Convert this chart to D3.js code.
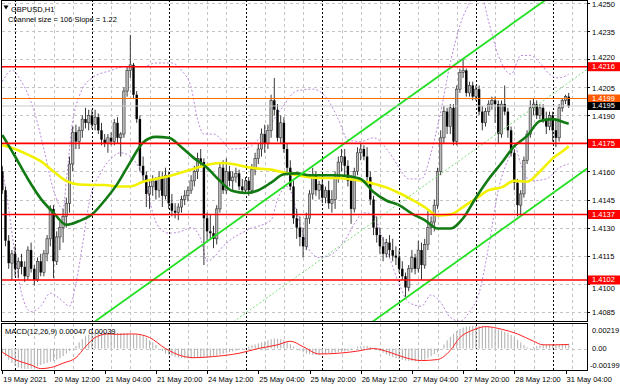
<!DOCTYPE html>
<html>
<head>
<meta charset="utf-8">
<script src="https://cdn.jsdelivr.net/npm/d3@7"></script>
<style>
  html, body { margin: 0; padding: 0; background: #fff; }
  svg { display: block; font-family: "Liberation Sans", Arial, sans-serif; }
</style>
</head>
<body>
<svg id="chart" width="620" height="388"></svg>
<script>
// GBPUSD H1, 19 May 20:00 .. 31 May 05:00 (bar index 0..177)
const opens = [
  1.4160,1.4150,1.4123,1.4111,1.4116,1.4108,1.4112,1.4109,1.4104,1.4118,
  1.4108,1.4102,1.4112,1.4106,1.4116,1.4124,1.4140,1.4112,1.4125,1.4130,
  1.4136,1.4143,1.4164,1.4181,1.4176,1.4182,1.4188,1.4186,1.4190,1.4185,
  1.4189,1.4182,1.4177,1.4175,1.4178,1.4176,1.4186,1.4178,1.4180,1.4203,
  1.4214,1.4217,1.4201,1.4188,1.4163,1.4158,1.4148,1.4152,1.4155,1.4150,
  1.4157,1.4147,1.4158,1.4143,1.4139,1.4138,1.4141,1.4145,1.4147,1.4150,
  1.4155,1.4160,1.4167,1.4165,1.4135,1.4128,1.4127,1.4124,1.4140,1.4162,
  1.4150,1.4160,1.4155,1.4157,1.4159,1.4152,1.4150,1.4155,1.4150,1.4161,
  1.4167,1.4172,1.4180,1.4175,1.4182,1.4198,1.4193,1.4178,1.4186,1.4172,
  1.4162,1.4152,1.4135,1.4130,1.4125,1.4120,1.4135,1.4148,1.4158,1.4150,
  1.4153,1.4146,1.4150,1.4143,1.4145,1.4157,1.4165,1.4168,1.4163,1.4155,
  1.4140,1.4160,1.4170,1.4172,1.4168,1.4157,1.4145,1.4130,1.4126,1.4120,
  1.4116,1.4122,1.4118,1.4115,1.4114,1.4108,1.4104,1.4098,1.4108,1.4114,
  1.4108,1.4118,1.4110,1.4121,1.4130,1.4133,1.4142,1.4160,1.4178,1.4192,
  1.4184,1.4194,1.4176,1.4204,1.4213,1.4214,1.4202,1.4206,1.4200,1.4204,
  1.4192,1.4186,1.4192,1.4196,1.4198,1.4196,1.4180,1.4196,1.4192,1.4182,
  1.4170,1.4154,1.4142,1.4148,1.4166,1.4180,1.4194,1.4196,1.4190,1.4194,
  1.4188,1.4184,1.4190,1.4182,1.4178,1.4194,1.4198,1.4200]
const highs = [
  1.4163,1.4152,1.4126,1.4118,1.4120,1.4114,1.4116,1.4112,1.4120,1.4122,
  1.4110,1.4114,1.4116,1.4118,1.4126,1.4142,1.4142,1.4128,1.4133,1.4140,
  1.4146,1.4168,1.4184,1.4185,1.4184,1.4190,1.4194,1.4193,1.4193,1.4193,
  1.4191,1.4186,1.4180,1.4180,1.4181,1.4188,1.4189,1.4181,1.4205,1.4216,
  1.4233,1.4218,1.4203,1.4190,1.4168,1.4160,1.4155,1.4158,1.4157,1.4160,
  1.4160,1.4162,1.4160,1.4148,1.4143,1.4143,1.4147,1.4150,1.4152,1.4158,
  1.4163,1.4170,1.4172,1.4167,1.4138,1.4137,1.4131,1.4142,1.4164,1.4166,
  1.4167,1.4163,1.4160,1.4162,1.4161,1.4156,1.4157,1.4157,1.4164,1.4170,
  1.4175,1.4183,1.4185,1.4185,1.4201,1.4210,1.4196,1.4190,1.4189,1.4175,
  1.4166,1.4155,1.4140,1.4136,1.4130,1.4138,1.4150,1.4162,1.4160,1.4155,
  1.4157,1.4152,1.4155,1.4150,1.4160,1.4168,1.4172,1.4172,1.4166,1.4158,
  1.4162,1.4173,1.4175,1.4174,1.4173,1.4160,1.4147,1.4136,1.4130,1.4125,
  1.4124,1.4126,1.4124,1.4120,1.4118,1.4112,1.4106,1.4110,1.4118,1.4116,
  1.4123,1.4122,1.4124,1.4139,1.4136,1.4145,1.4162,1.4182,1.4195,1.4194,
  1.4196,1.4196,1.4206,1.4215,1.4220,1.4215,1.4208,1.4208,1.4206,1.4206,
  1.4195,1.4194,1.4198,1.4200,1.4200,1.4198,1.4198,1.4206,1.4194,1.4184,
  1.4172,1.4156,1.4150,1.4168,1.4182,1.4198,1.4199,1.4198,1.4196,1.4196,
  1.4192,1.4192,1.4192,1.4188,1.4196,1.4199,1.4201,1.4202]
const lows = [
  1.4148,1.4120,1.4108,1.4102,1.4104,1.4103,1.4105,1.4101,1.4102,1.4106,
  1.4099,1.4101,1.4104,1.4104,1.4112,1.4120,1.4103,1.4110,1.4118,1.4122,
  1.4130,1.4138,1.4160,1.4172,1.4172,1.4178,1.4183,1.4182,1.4183,1.4182,
  1.4180,1.4174,1.4173,1.4170,1.4174,1.4174,1.4175,1.4168,1.4178,1.4200,
  1.4210,1.4199,1.4186,1.4160,1.4155,1.4141,1.4140,1.4147,1.4145,1.4146,
  1.4141,1.4145,1.4140,1.4136,1.4135,1.4134,1.4138,1.4142,1.4144,1.4148,
  1.4152,1.4156,1.4162,1.4110,1.4123,1.4124,1.4119,1.4121,1.4138,1.4148,
  1.4148,1.4152,1.4150,1.4154,1.4150,1.4148,1.4148,1.4147,1.4148,1.4158,
  1.4164,1.4168,1.4170,1.4172,1.4178,1.4190,1.4176,1.4175,1.4170,1.4158,
  1.4150,1.4132,1.4124,1.4120,1.4114,1.4118,1.4132,1.4145,1.4147,1.4145,
  1.4143,1.4143,1.4140,1.4138,1.4140,1.4154,1.4160,1.4158,1.4152,1.4132,
  1.4138,1.4158,1.4166,1.4166,1.4155,1.4142,1.4126,1.4122,1.4116,1.4112,
  1.4114,1.4114,1.4112,1.4110,1.4106,1.4102,1.4093,1.4096,1.4106,1.4105,
  1.4106,1.4102,1.4108,1.4118,1.4126,1.4128,1.4140,1.4158,1.4175,1.4180,
  1.4180,1.4174,1.4174,1.4202,1.4210,1.4200,1.4200,1.4198,1.4198,1.4190,
  1.4182,1.4184,1.4190,1.4193,1.4186,1.4175,1.4178,1.4190,1.4178,1.4168,
  1.4150,1.4136,1.4136,1.4146,1.4164,1.4178,1.4190,1.4188,1.4188,1.4186,
  1.4180,1.4182,1.4176,1.4173,1.4176,1.4192,1.4196,1.4194]
const closes = [
  1.4150,1.4123,1.4111,1.4116,1.4108,1.4112,1.4109,1.4104,1.4118,1.4108,
  1.4102,1.4112,1.4106,1.4116,1.4124,1.4140,1.4112,1.4125,1.4130,1.4136,
  1.4143,1.4164,1.4181,1.4176,1.4182,1.4188,1.4186,1.4190,1.4185,1.4189,
  1.4182,1.4177,1.4175,1.4178,1.4176,1.4186,1.4178,1.4180,1.4203,1.4214,
  1.4217,1.4201,1.4188,1.4163,1.4158,1.4148,1.4152,1.4155,1.4150,1.4157,
  1.4147,1.4158,1.4143,1.4139,1.4138,1.4141,1.4145,1.4147,1.4150,1.4155,
  1.4160,1.4167,1.4165,1.4135,1.4128,1.4127,1.4124,1.4140,1.4162,1.4150,
  1.4160,1.4155,1.4157,1.4159,1.4152,1.4150,1.4155,1.4150,1.4161,1.4167,
  1.4172,1.4180,1.4175,1.4182,1.4198,1.4193,1.4178,1.4186,1.4172,1.4162,
  1.4152,1.4135,1.4130,1.4125,1.4120,1.4135,1.4148,1.4158,1.4150,1.4153,
  1.4146,1.4150,1.4143,1.4145,1.4157,1.4165,1.4168,1.4163,1.4155,1.4140,
  1.4160,1.4170,1.4172,1.4168,1.4157,1.4145,1.4130,1.4126,1.4120,1.4116,
  1.4122,1.4118,1.4115,1.4114,1.4108,1.4104,1.4098,1.4108,1.4114,1.4108,
  1.4118,1.4110,1.4121,1.4130,1.4133,1.4142,1.4160,1.4178,1.4192,1.4184,
  1.4194,1.4176,1.4204,1.4213,1.4214,1.4202,1.4206,1.4200,1.4204,1.4192,
  1.4186,1.4192,1.4196,1.4198,1.4196,1.4180,1.4196,1.4192,1.4182,1.4170,
  1.4154,1.4142,1.4148,1.4166,1.4180,1.4194,1.4196,1.4190,1.4194,1.4188,
  1.4184,1.4190,1.4182,1.4178,1.4194,1.4198,1.4200,1.4195]

// moving averages read every 4 bars
const maBars = [0,4,8,12,16,20,24,28,32,36,40,44,48,52,56,60,64,68,72,76,80,84,88,92,
  96,100,104,108,112,116,120,124,128,132,136,140,144,148,152,156,160,164,168,172,176,177]
const greenMA = [1.41795,1.4168,1.4156,1.41455,1.4138,1.41315,1.41335,1.4137,1.41445,1.41535,
  1.4165,1.41755,1.41785,1.4178,1.4173,1.4167,1.4162,1.4155,1.41495,1.41485,1.4150,1.4154,
  1.41585,1.4159,1.4158,1.4158,1.4158,1.41575,1.4156,1.4149,1.41445,1.4142,1.41375,1.4134,
  1.41295,1.41295,1.4135,1.4146,1.4156,1.41645,1.41735,1.4179,1.4187,1.4188,1.4186,1.41855]
const yellowMA = [1.4174,1.4172,1.4169,1.41655,1.4160,1.4155,1.4153,1.41528,1.41528,1.4152,
  1.4152,1.41545,1.4156,1.41575,1.41595,1.41615,1.41635,1.41645,1.4164,1.41625,1.41615,1.4161,
  1.41595,1.4158,1.4157,1.41565,1.41565,1.4156,1.4155,1.41535,1.41515,1.41485,1.4145,1.4141,
  1.41365,1.4137,1.4141,1.41455,1.4150,1.41515,1.4155,1.41545,1.4160,1.4167,1.4172,1.41735]

// envelope bands (dotted purple)
const upperBars = [0,3,6,10,13,16,19,20,22,24,28,34,38,44,48,53,56,59,61,63,66,69,71,77,81,87,
  92,97,101,105,108,112,116,121,124,127,131,134,137,140,143,146,149,152,155,159,162,165,168,171,174,177]
const upperBand = [1.4208,1.4214,1.4208,1.4192,1.4172,1.4150,1.4140,1.4155,1.4187,1.4200,1.4210,
  1.4214,1.4216,1.4216,1.4218,1.4218,1.4214,1.4205,1.4188,1.4180,1.4180,1.4176,1.4172,1.4173,
  1.4179,1.4193,1.4203,1.4204,1.4200,1.4188,1.4177,1.4176,1.4178,1.4170,1.4162,1.4156,1.4156,
  1.4170,1.4192,1.4218,1.4238,1.4250,1.4258,1.4240,1.4222,1.4212,1.4222,1.4222,1.4218,1.4212,
  1.4210,1.4212]
const lowerBars = [0,2,4,6,9,12,15,18,21,23,25,27,31,34,37,40,42,45,47,49,52,56,59,62,64,66,69,
  71,77,84,86,89,90,93,96,99,102,107,110,113,116,118,121,124,127,131,134,137,140,143,146,149,
  152,155,159,160,162,165,170,174,177]
const lowerBand = [1.4162,1.4140,1.4115,1.4095,1.4085,1.4088,1.4095,1.4092,1.4088,1.4100,1.4120,
  1.4142,1.4160,1.4167,1.4170,1.4168,1.4164,1.4152,1.4138,1.4130,1.4127,1.4128,1.4130,1.4124,
  1.4112,1.4114,1.4120,1.4123,1.4129,1.4134,1.4145,1.4152,1.4150,1.4132,1.4118,1.4114,1.4115,
  1.4123,1.4132,1.4138,1.4137,1.4128,1.4114,1.4100,1.4090,1.4088,1.4094,1.4090,1.4082,1.4080,
  1.4085,1.4095,1.4120,1.4150,1.4170,1.4174,1.4164,1.4155,1.4156,1.4162,1.4164]

// regression channel: middle line at two bars, half width
const channelBars = [0, 186]
const channelMid = [1.39915, 1.42185]
const channelHalf = 0.0053

// MACD(12,26,9): main per bar (histogram), signal read at sample bars
const macdMain = [
  -0.00038,-0.00075,-0.00110,-0.00140,-0.00170,-0.00185,-0.00195,-0.00199,-0.00198,-0.00196,
  -0.00190,-0.00175,-0.00160,-0.00150,-0.00140,-0.00128,-0.00120,-0.00108,-0.00095,-0.00074,
  -0.00050,-0.00025,0.00000,0.00025,0.00060,0.00090,0.00120,0.00135,0.00150,0.00158,
  0.00162,0.00160,0.00160,0.00158,0.00155,0.00154,0.00153,0.00150,0.00152,0.00150,
  0.00142,0.00140,0.00135,0.00130,0.00124,0.00105,0.00080,0.00060,0.00035,0.00000,
  -0.00025,-0.00048,-0.00060,-0.00070,-0.00080,-0.00088,-0.00092,-0.00095,-0.00096,-0.00096,
  -0.00094,-0.00092,-0.00090,-0.00090,-0.00089,-0.00083,-0.00075,-0.00068,-0.00058,-0.00052,
  -0.00043,-0.00035,-0.00028,-0.00022,-0.00015,-0.00005,0.00008,0.00020,0.00032,0.00040,
  0.00050,0.00060,0.00070,0.00080,0.00090,0.00096,0.00094,0.00090,0.00082,0.00065,
  0.00042,0.00020,0.00002,-0.00020,-0.00038,-0.00048,-0.00056,-0.00060,-0.00060,-0.00058,
  -0.00055,-0.00053,-0.00048,-0.00044,-0.00040,-0.00036,-0.00032,-0.00028,-0.00025,-0.00015,
  0.00002,0.00018,0.00023,0.00025,0.00024,0.00015,0.00003,-0.00010,-0.00025,-0.00040,
  -0.00058,-0.00072,-0.00084,-0.00094,-0.00103,-0.00110,-0.00116,-0.00120,-0.00123,-0.00124,
  -0.00120,-0.00114,-0.00108,-0.00095,-0.00075,-0.00055,-0.00036,0.00000,0.00040,0.00080,
  0.00115,0.00145,0.00170,0.00190,0.00205,0.00213,0.00217,0.00219,0.00219,0.00217,
  0.00215,0.00214,0.00212,0.00203,0.00194,0.00185,0.00176,0.00163,0.00148,0.00132,
  0.00110,0.00085,0.00060,0.00035,0.00012,0.00005,0.00015,0.00025,0.00030,0.00033,
  0.00035,0.00036,0.00036,0.00036,0.00037,0.00040,0.00044,0.00047]
const signalBars = [0,4,9,12,16,19,23,26,29,33,36,41,46,51,56,60,66,74,80,86,90,94,99,105,
  111,116,121,126,131,136,140,143,147,151,156,161,166,169,173,177]
const signalVals = [-0.00036,-0.00107,-0.00160,-0.00195,-0.00178,-0.00142,-0.00089,0.00018,
  0.00107,0.00142,0.00138,0.00142,0.00107,0.00000,-0.00071,-0.00089,-0.00078,-0.00046,0.00000,
  0.00036,0.00071,0.00018,-0.00053,-0.00046,-0.00025,0.00000,-0.00036,-0.00089,-0.00117,
  -0.00107,-0.00018,0.00107,0.00178,0.00213,0.00188,0.00142,0.00071,0.00036,0.00036,0.00039]

const priceTicks = [1.4250,1.4235,1.4220,1.4205,1.4190,1.4175,1.4160,1.4145,1.4130,1.4115,1.4100,1.4085]
const levelPrices = [1.4216,1.4175,1.4137,1.4102]
const askPrice = 1.4199
const bidPrice = 1.4195
const timeLabels = ['19 May 2021','20 May 12:00','21 May 04:00','21 May 20:00','24 May 12:00',
  '25 May 04:00','25 May 20:00','26 May 12:00','27 May 04:00','27 May 20:00','28 May 12:00','31 May 04:00']
const timeLabelBars = [0,16,32,48,64,80,96,112,128,144,160,176]
const daySeparatorBars = [4,28,52,76,100,124,148,172]
const gridBars = [10,16,22,34,40,46,58,64,70,82,88,94,106,112,118,130,136,142,154,160,166,178]
const macdTicks = [0.00219, 0, -0.00199]

const svg = d3.select('#chart')
const L = 2, R = 587, mainBot = 321, macdTop = 324, macdBot = 370

const x = d3.scaleLinear().domain([0, 177]).range([2.3, 568.7])
const y = d3.scaleLinear().domain([1.408008, 1.425165]).range([mainBot, 0])
const ym = d3.scaleLinear().domain([-0.00199, 0.00219]).range([369, 326])

const defs = svg.append('defs')
defs.append('clipPath').attr('id', 'clipMain')
  .append('rect').attr('x', L).attr('y', 0).attr('width', R - L).attr('height', mainBot)
defs.append('clipPath').attr('id', 'clipMacd')
  .append('rect').attr('x', L).attr('y', macdTop).attr('width', R - L).attr('height', macdBot - macdTop)

const main = svg.append('g').attr('clip-path', 'url(#clipMain)')
const macd = svg.append('g').attr('clip-path', 'url(#clipMacd)')

// grid
main.selectAll('line.hgrid').data(priceTicks).enter().append('line')
  .attr('x1', L).attr('x2', R).attr('y1', d => Math.round(y(d)) + 0.5).attr('y2', d => Math.round(y(d)) + 0.5)
  .attr('stroke', '#c4c4c4').attr('stroke-dasharray', '3,3')
;[main, macd].forEach((g, k) => {
  const y1 = k ? macdTop : 0, y2 = k ? macdBot : mainBot
  g.selectAll('line.vgrid').data(gridBars).enter().append('line')
    .attr('x1', d => Math.round(x(d)) + 0.5).attr('x2', d => Math.round(x(d)) + 0.5)
    .attr('y1', y1).attr('y2', y2).attr('stroke', '#c4c4c4').attr('stroke-dasharray', '3,3')
  g.selectAll('line.daysep').data(daySeparatorBars).enter().append('line')
    .attr('x1', d => Math.round(x(d)) + 0.5).attr('x2', d => Math.round(x(d)) + 0.5)
    .attr('y1', y1).attr('y2', y2).attr('stroke', '#000').attr('stroke-dasharray', '2,2')
})
macd.append('line').attr('x1', L).attr('x2', R).attr('y1', Math.round(ym(0)) + 0.5).attr('y2', Math.round(ym(0)) + 0.5)
  .attr('stroke', '#c4c4c4').attr('stroke-dasharray', '3,3')

// bands
const line = (bars, vals, sc) => d3.line()
  .x((d, i) => x(bars[i])).y(d => sc(d)).curve(d3.curveMonotoneX)(vals)
main.append('path').attr('d', line(upperBars, upperBand, y)).attr('fill', 'none')
  .attr('stroke', '#bb88dd').attr('stroke-width', 1).attr('stroke-dasharray', '2,2')
main.append('path').attr('d', line(lowerBars, lowerBand, y)).attr('fill', 'none')
  .attr('stroke', '#bb88dd').attr('stroke-width', 1).attr('stroke-dasharray', '2,2')

// candles
const candle = main.selectAll('g.candle').data(closes).enter().append('g')
candle.append('line')
  .attr('x1', (d, i) => x(i)).attr('x2', (d, i) => x(i))
  .attr('y1', (d, i) => y(highs[i])).attr('y2', (d, i) => y(lows[i]))
  .attr('stroke', '#222').attr('stroke-width', 0.9)
candle.append('rect')
  .attr('x', (d, i) => x(i) - 1.2).attr('width', 2.4)
  .attr('y', (d, i) => y(Math.max(opens[i], d)))
  .attr('height', (d, i) => Math.max(0.8, Math.abs(y(opens[i]) - y(d))))
  .attr('fill', (d, i) => d >= opens[i] ? '#b8b8b8' : '#000')
  .attr('stroke', (d, i) => d >= opens[i] ? '#333' : 'none').attr('stroke-width', 0.6)

// moving averages
main.append('path').attr('d', line(maBars, yellowMA, y)).attr('fill', 'none')
  .attr('stroke', '#f2f200').attr('stroke-width', 2.6)
main.append('path').attr('d', line(maBars, greenMA, y)).attr('fill', 'none')
  .attr('stroke', '#127a12').attr('stroke-width', 2.6)

// regression channel
;[channelHalf, 0, -channelHalf].forEach(off => {
  main.append('line')
    .attr('x1', x(channelBars[0])).attr('x2', x(channelBars[1]))
    .attr('y1', y(channelMid[0] + off)).attr('y2', y(channelMid[1] + off))
    .attr('stroke', off ? '#22e022' : '#77dd77').attr('stroke-width', off ? 1.8 : 1)
    .attr('stroke-dasharray', off ? null : '2,2')
})

// horizontal levels
main.append('line').attr('x1', L).attr('x2', R).attr('y1', y(bidPrice)).attr('y2', y(bidPrice))
  .attr('stroke', '#c8c8c8')
main.append('line').attr('x1', L).attr('x2', R).attr('y1', y(askPrice)).attr('y2', y(askPrice))
  .attr('stroke', '#ff6a00')
main.selectAll('line.level').data(levelPrices).enter().append('line')
  .attr('x1', L).attr('x2', R).attr('y1', d => y(d)).attr('y2', d => y(d))
  .attr('stroke', '#ff0000').attr('stroke-width', 1.6)

// MACD
macd.selectAll('rect.hist').data(macdMain).enter().append('rect')
  .attr('x', (d, i) => x(i) - 0.5).attr('width', 1.1)
  .attr('y', d => Math.min(ym(d), ym(0))).attr('height', d => Math.abs(ym(d) - ym(0)))
  .attr('fill', '#b4b4b4')
macd.append('path').attr('d', line(signalBars, signalVals, ym)).attr('fill', 'none')
  .attr('stroke', '#ff2020').attr('stroke-width', 1)

// frames
const frame = svg.append('g').attr('fill', 'none').attr('stroke', '#000')
frame.append('rect').attr('x', 1.5).attr('y', 0.5).attr('width', R - 1).attr('height', mainBot)
frame.append('rect').attr('x', 1.5).attr('y', macdTop - 0.5).attr('width', R - 1).attr('height', macdBot - macdTop + 1)

// price axis: tick labels step aside from the level tags, as in the terminal
const fs = '7.5px'
const axis = svg.append('g').attr('font-size', fs)
const tickLabelY = p => {
  let ty = y(p) + 1.5
  for (const t of levelPrices) {
    const d = ty - (y(t) + 0.5)
    if (Math.abs(d) < 2) return null
    if (Math.abs(d) < 8.8) ty = y(t) + 0.5 + Math.sign(d) * 8.8
  }
  return ty
}
axis.selectAll('line.tick').data(priceTicks).enter().append('line')
  .attr('x1', R).attr('x2', R + 3).attr('y1', d => Math.round(y(d)) + 0.5).attr('y2', d => Math.round(y(d)) + 0.5)
  .attr('stroke', '#000')
axis.selectAll('text.tick').data(priceTicks.filter(p => tickLabelY(p) !== null)).enter().append('text')
  .attr('x', 592).attr('y', d => tickLabelY(d)).attr('dominant-baseline', 'middle')
  .text(d => d.toFixed(4))
const tag = (p, fill, h) => {
  axis.append('rect').attr('x', R + 1).attr('y', y(p) - h / 2).attr('width', 620 - R).attr('height', h).attr('fill', fill)
  axis.append('text').attr('x', 592).attr('y', y(p) + 0.5).attr('dominant-baseline', 'middle')
    .attr('fill', '#fff').text(p.toFixed(4))
}
levelPrices.forEach(p => tag(p, '#ff0000', 9))
tag(askPrice, '#ff5a00', 8)
tag(bidPrice, '#000', 8)

axis.selectAll('text.mtick').data(macdTicks).enter().append('text')
  .attr('x', d => d < 0 ? 590 : 592).attr('y', d => d > 0 ? 331 : d < 0 ? 366 : ym(d) + 0.5)
  .attr('dominant-baseline', 'middle').text(d => d === 0 ? '0.00' : d.toFixed(5))

// time axis
axis.selectAll('line.xtick').data(timeLabelBars).enter().append('line')
  .attr('x1', d => Math.round(x(d)) + 0.5).attr('x2', d => Math.round(x(d)) + 0.5)
  .attr('y1', macdBot + 1).attr('y2', macdBot + 4).attr('stroke', '#000')
axis.selectAll('text.xlab').data(timeLabels).enter().append('text')
  .attr('x', (d, i) => x(timeLabelBars[i]) + 1).attr('y', 382)
  .text(d => d)

// titles
svg.append('path').attr('d', 'M3.5,5.5L8.5,5.5L6,9.5Z').attr('fill', '#000')
svg.append('text').attr('x', 11).attr('y', 12).attr('font-size', fs).text('GBPUSD,H1')
svg.append('text').attr('x', 8).attr('y', 22).attr('font-size', fs).text('Channel size = 106 Slope = 1.22')
svg.append('text').attr('x', 5).attr('y', 334).attr('font-size', fs)
  .text('MACD(12,26,9) 0.00047 0.00039')
</script>
</body>
</html>
